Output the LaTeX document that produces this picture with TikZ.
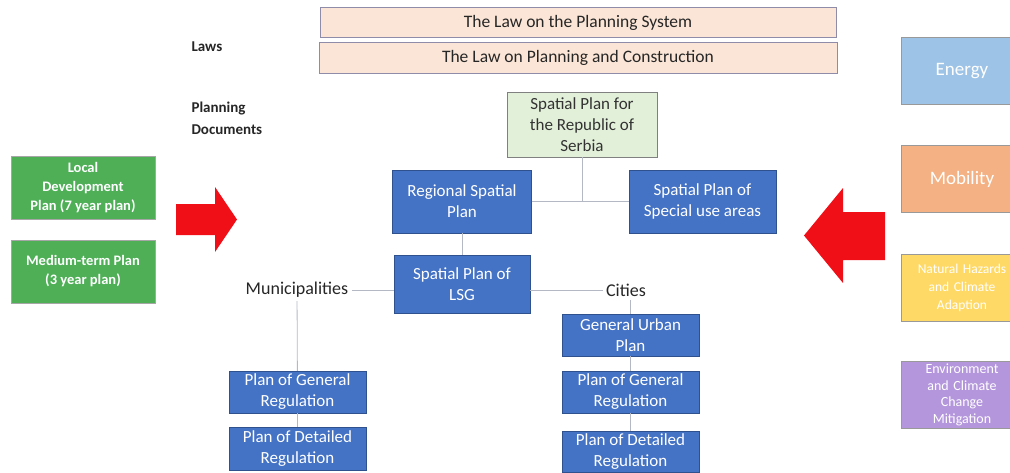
\documentclass[tikz,border=0pt]{standalone}
\usepackage{fontspec}
\setmainfont{Carlito}
\usepackage{xcolor}
\usetikzlibrary{positioning}

\definecolor{planblue}{HTML}{4472C4}
\definecolor{planbluedark}{HTML}{2F528F}
\definecolor{lawpeach}{HTML}{FBE5D6}
\definecolor{lawborder}{HTML}{8E8CA8}
\definecolor{natgreen}{HTML}{E2F0D9}
\definecolor{ldpgreen}{HTML}{4EAF57}
\definecolor{energyblue}{HTML}{9DC3E6}
\definecolor{mobilityorange}{HTML}{F4B183}
\definecolor{hazardyellow}{HTML}{FFD966}
\definecolor{envpurple}{HTML}{B496DC}
\definecolor{arrowred}{HTML}{F00E17}
\definecolor{linkgray}{HTML}{B4B8C4}

\begin{document}
\begin{tikzpicture}[
  x=1pt, y=-1pt,
  law/.style={rectangle, draw=lawborder, fill=lawpeach, minimum width=516, minimum height=30,
    inner sep=1pt, font=\fontsize{17.5}{19}\selectfont, text=black!85},
  plan/.style={rectangle, draw=planbluedark, fill=planblue, text=white, align=center,
    minimum width=137, minimum height=42, inner sep=1pt, font=\fontsize{17}{21}\selectfont},
  local/.style={rectangle, draw=black!35, fill=ldpgreen, text=white, align=center,
    minimum width=144, minimum height=63, inner sep=1pt, font=\bfseries\fontsize{14.5}{19}\selectfont},
  sector/.style={rectangle, draw=black!40, text=white, align=center,
    minimum width=122, minimum height=67, inner sep=1pt, text width=118},
  label/.style={font=\fontsize{18}{20}\selectfont, text=black!85},
  heading/.style={font=\bfseries\fontsize{15}{22}\selectfont, align=left, text=black!85, anchor=west},
  link/.style={draw=linkgray, line width=0.8pt}
]
\useasboundingbox (0,0) rectangle (1010,472);
\clip (0,0) rectangle (1010,472);

% laws
\node[law] (lawsys) at (578,22.5) {The Law on the Planning System};
\node[law, minimum width=518, minimum height=31] (lawcon) at (578,57.5) {The Law on Planning and Construction};
\node[heading] (laws) at (188,47) {Laws};
\node[heading] (docs) at (188,118) {Planning\\Documents};

% national and regional level
\node[plan, fill=natgreen, draw=black!50, text=black!80, minimum width=150, minimum height=65]
  (serbia) at (582,124.5) {Spatial Plan for\\the Republic of\\Serbia};
\node[plan, minimum width=139, minimum height=63] (regional) at (462,201.5) {Regional Spatial\\Plan};
\node[plan, minimum width=147, minimum height=63] (special) at (702.5,201.5) {Spatial Plan of\\Special use areas};
\node[plan, minimum width=136, minimum height=58] (lsg) at (462,284) {Spatial Plan of\\LSG};

\node[label] (muni) at (297,290) {Municipalities};
\node[label] (cities) at (626,290) {Cities};

% municipalities
\node[plan] (genregm) at (297.5,392) {Plan of General\\Regulation};
\node[plan, minimum height=43] (detregm) at (297.5,448.5) {Plan of Detailed\\Regulation};

% cities
\node[plan] (urban) at (630.5,335) {General Urban\\Plan};
\node[plan] (genregc) at (630.5,392) {Plan of General\\Regulation};
\node[plan, minimum height=41] (detregc) at (630.5,451.5) {Plan of Detailed\\Regulation};

% local development plans
\node[local] (ldp) at (83,187.5) {Local\\Development\\Plan (7 year plan)};
\node[local] (mtp) at (83,271.5) {Medium-term Plan\\(3 year plan)};

% sectors
\node[sector, fill=energyblue, font=\fontsize{19}{21}\selectfont] (energy) at (962,71) {Energy};
\node[sector, fill=mobilityorange, font=\fontsize{19}{21}\selectfont] (mobility) at (962,179) {Mobility};
\node[sector, fill=hazardyellow, font=\fontsize{13.5}{18}\selectfont] (hazards) at (962,288) {Natural Hazards\\and Climate\\Adaption};
\node[sector, fill=envpurple, font=\fontsize{14}{16.5}\selectfont] (environment) at (962,395) {Environment\\and Climate\\Change\\Mitigation};

% red arrows
\fill[arrowred] (176,204) -- (215,204) -- (215,187) -- (237,219.5) -- (215,252) -- (215,235) -- (176,235) -- cycle;
\fill[arrowred] (885,212) -- (843,212) -- (843,188) -- (804,235.5) -- (843,283) -- (843,260) -- (885,260) -- cycle;

% connectors
\coordinate (join) at (serbia.south |- regional.east);
\draw[link] (serbia) -- (join);
\draw[link] (regional) -- (special);
\draw[link] (regional) -- (lsg);
\draw[link] (muni) -- (muni.east -| lsg.west);
\draw[link] (cities.west -| lsg.east) -- (cities);
\draw[link] (muni) -- (genregm);
\draw[link] (genregm) -- (detregm);
\draw[link] (cities.south -| urban.north) -- (urban);
\draw[link] (urban) -- (genregc);
\draw[link] (genregc) -- (detregc);
\end{tikzpicture}
\end{document}
